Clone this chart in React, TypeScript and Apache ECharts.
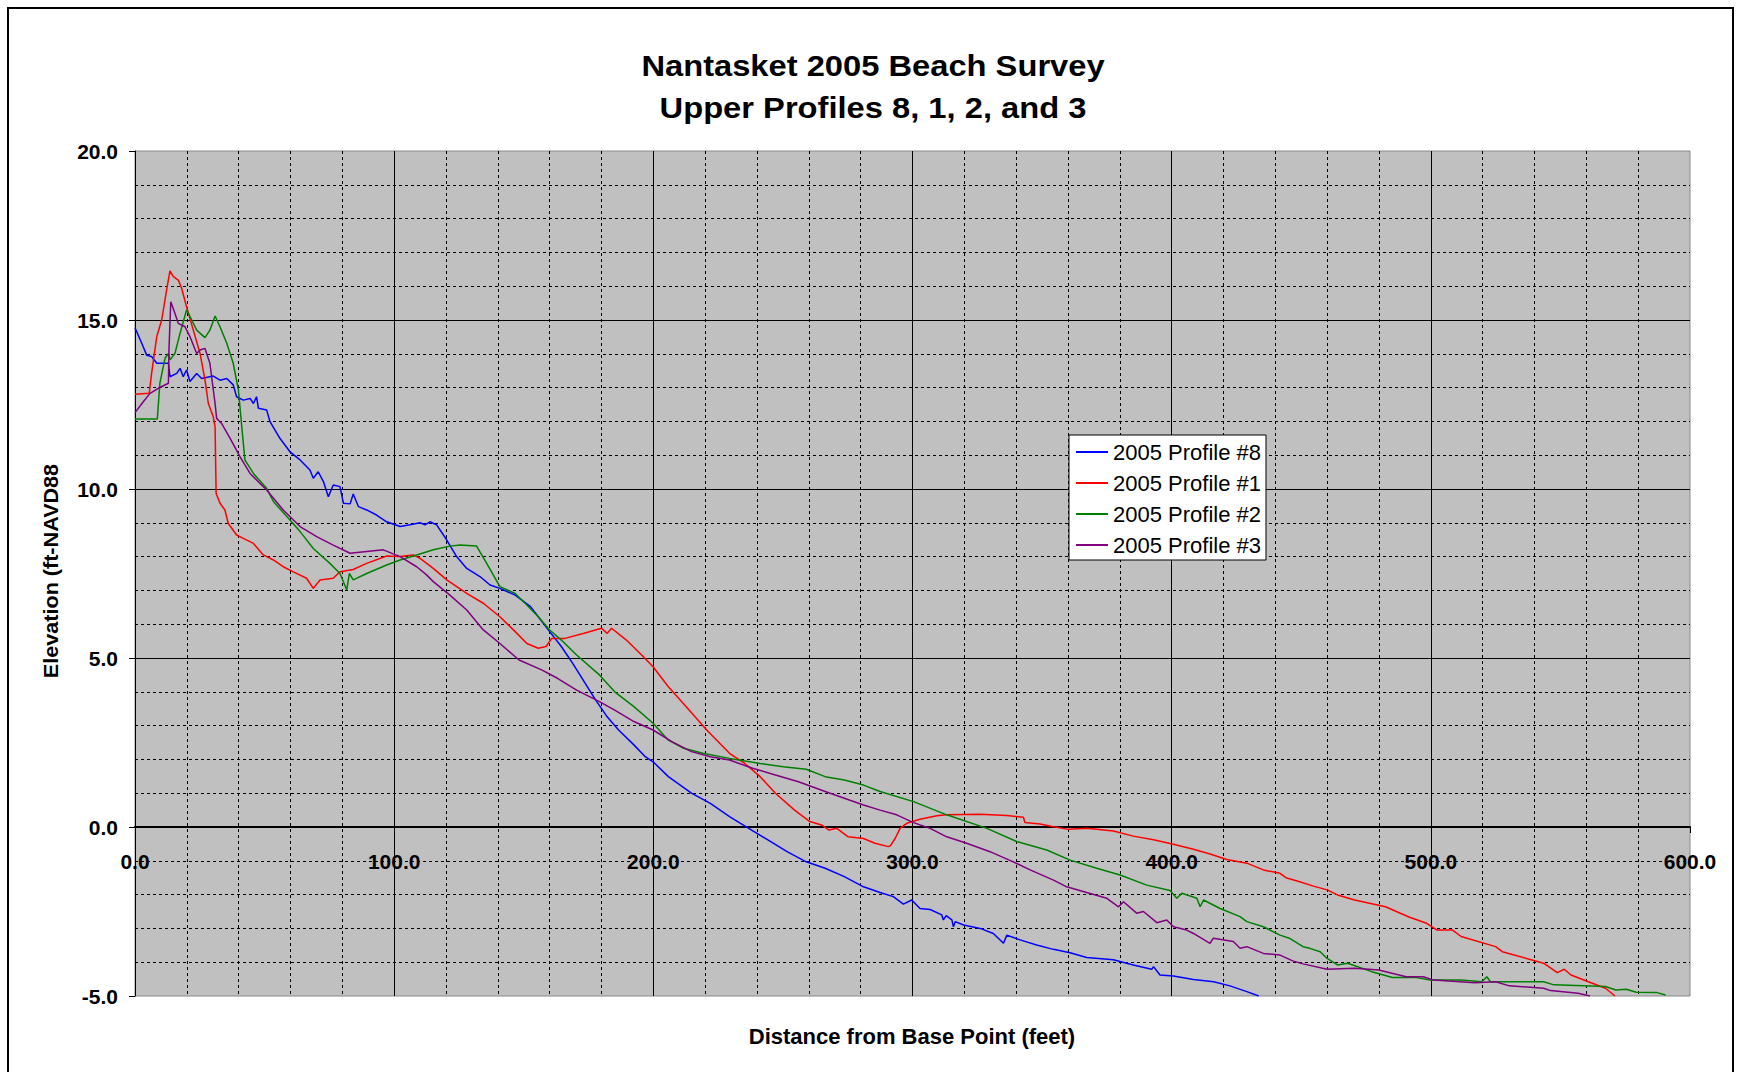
import React, { useEffect, useRef } from "react";
import * as echarts from "echarts";

type Pt = [number, number];

const seriesNames = ["2005 Profile #8", "2005 Profile #1", "2005 Profile #2", "2005 Profile #3"];
const seriesColors = ["#0000ff", "#ff0000", "#008000", "#800080"];

const titleLines = ["Nantasket 2005 Beach Survey", "Upper Profiles 8, 1, 2, and 3"];
const xAxisTitle = "Distance from Base Point (feet)";
const yAxisTitle = "Elevation (ft-NAVD88";

const profile8: Pt[] = [
  [0, 14.77], [2.6, 14.31], [4.5, 13.96], [6.4, 13.92], [8.4, 13.72], [12.9, 13.72], [13.5, 13.32],
  [16.1, 13.42], [17.4, 13.57], [18.6, 13.32], [19.9, 13.52], [21.2, 13.18], [23.8, 13.42], [25.7, 13.27],
  [30.2, 13.34], [32.8, 13.22], [35.4, 13.27], [37.9, 13.08], [39.2, 12.73], [41.8, 12.63], [44.4, 12.68],
  [45.7, 12.53], [46.9, 12.73], [47.6, 12.39], [50.8, 12.34], [52.1, 11.99], [55.9, 11.5], [59.8, 11.1],
  [63.7, 10.86], [67.5, 10.56], [68.8, 10.32], [70.7, 10.51], [72.7, 10.22], [74.6, 9.77], [76.5, 10.12],
  [79.1, 10.07], [80.4, 9.58], [83.0, 9.56], [84.2, 9.85], [86.2, 9.48], [89.4, 9.38], [93.2, 9.23],
  [97.1, 9.03], [102.3, 8.89], [106.1, 8.94], [110.0, 9.0], [111.9, 8.94], [113.8, 9.03], [116.4, 8.94],
  [120.3, 8.49], [124.1, 8.0], [128.0, 7.65], [133.1, 7.41], [137.0, 7.16], [140.8, 7.06], [146.7, 6.86],
  [152.6, 6.52], [155.6, 6.22], [160.0, 5.78], [164.5, 5.34], [168.9, 4.84], [173.3, 4.3], [177.7, 3.76],
  [182.2, 3.26], [186.6, 2.87], [192.5, 2.43], [196.9, 2.08], [199.9, 1.93], [205.8, 1.49], [214.7, 1.0],
  [222.0, 0.7], [229.4, 0.31], [236.8, -0.04], [244.2, -0.38], [251.6, -0.73], [259.0, -1.03], [266.3, -1.22],
  [273.7, -1.47], [281.1, -1.77], [287.5, -1.94], [292.6, -2.06], [296.5, -2.28], [299.7, -2.16],
  [302.9, -2.41], [306.8, -2.44], [311.3, -2.6], [311.9, -2.75], [313.0, -2.62], [315.2, -2.75],
  [315.8, -2.95], [316.5, -2.8], [319.7, -2.9], [326.1, -3.0], [331.2, -3.15], [335.1, -3.44], [336.4, -3.2],
  [341.5, -3.34], [347.9, -3.49], [354.4, -3.62], [360.8, -3.72], [367.2, -3.86], [377.5, -3.93],
  [385.2, -4.08], [392.3, -4.21], [393.0, -4.13], [395.5, -4.38], [400.7, -4.41], [408.4, -4.51],
  [416.2, -4.58], [422.5, -4.7], [429.0, -4.87], [433.6, -5.0],
];

const profile1: Pt[] = [
  [0, 12.8], [5.5, 12.83], [6.4, 13.42], [8.4, 14.51], [10.3, 15.0], [12.2, 15.89], [13.5, 16.45],
  [14.8, 16.28], [16.7, 16.18], [18.0, 15.94], [19.9, 15.39], [22.5, 14.7], [25.1, 14.01], [27.0, 13.23],
  [28.3, 12.53], [30.2, 12.14], [30.9, 11.84], [31.3, 9.87], [32.8, 9.58], [34.7, 9.38], [36.0, 8.98],
  [39.2, 8.64], [41.8, 8.54], [45.7, 8.39], [49.5, 8.05], [53.4, 7.9], [57.2, 7.7], [61.1, 7.55],
  [66.2, 7.36], [68.8, 7.06], [71.4, 7.31], [76.5, 7.36], [79.1, 7.55], [84.2, 7.62], [89.4, 7.8],
  [97.1, 8.02], [102.3, 8.0], [107.4, 8.05], [110.0, 7.95], [115.1, 7.65], [120.3, 7.31], [128.0, 6.91],
  [134.4, 6.62], [140.8, 6.22], [146.7, 5.78], [151.2, 5.43], [155.6, 5.29], [158.6, 5.34], [160.8, 5.58],
  [165.9, 5.58], [173.3, 5.73], [180.0, 5.88], [182.2, 5.73], [183.9, 5.88], [189.6, 5.53], [195.5, 5.09],
  [199.9, 4.74], [205.8, 4.15], [213.2, 3.51], [220.6, 2.87], [229.4, 2.18], [235.3, 1.88], [241.2, 1.49],
  [247.1, 1.0], [254.5, 0.5], [260.4, 0.16], [264.9, 0.06], [267.8, -0.09], [270.8, -0.04], [275.2, -0.29],
  [281.1, -0.34], [285.5, -0.48], [290.7, -0.58], [291.5, -0.55], [293.3, -0.34], [295.2, -0.04],
  [297.8, 0.11], [302.9, 0.23], [309.4, 0.33], [313.2, 0.36], [326.1, 0.38], [336.4, 0.34], [342.8, 0.29],
  [343.4, 0.13], [349.2, 0.09], [354.4, 0.01], [360.2, -0.07], [367.2, -0.04], [377.5, -0.12],
  [385.2, -0.27], [393.0, -0.38], [400.7, -0.51], [408.4, -0.66], [414.8, -0.8], [421.3, -0.96],
  [429.0, -1.07], [435.4, -1.27], [441.8, -1.37], [444.1, -1.5], [449.4, -1.62], [454.7, -1.75],
  [460.0, -1.86], [464.0, -2.01], [470.6, -2.16], [482.5, -2.36], [491.8, -2.67], [498.4, -2.85],
  [502.4, -3.05], [508.4, -3.05], [511.7, -3.24], [525.0, -3.54], [527.6, -3.69], [543.5, -4.03],
  [548.8, -4.31], [551.5, -4.21], [554.1, -4.38], [560.8, -4.58], [567.4, -4.77], [571.1, -5.0],
];

const profile2: Pt[] = [
  [0, 12.07], [8.6, 12.07], [9.6, 13.13], [11.6, 13.87], [12.9, 14.01], [13.5, 13.82], [15.4, 14.01],
  [17.4, 14.61], [19.9, 15.3], [21.9, 15.0], [23.8, 14.7], [27.0, 14.48], [28.9, 14.7], [30.9, 15.12],
  [32.8, 14.8], [35.4, 14.31], [37.9, 13.72], [39.9, 12.93], [41.2, 11.84], [42.4, 10.86], [45.7, 10.46],
  [50.8, 10.02], [53.4, 9.63], [59.8, 9.08], [63.7, 8.74], [68.8, 8.24], [75.2, 7.8], [79.1, 7.5],
  [81.7, 7.01], [82.7, 7.5], [84.2, 7.31], [89.4, 7.5], [97.1, 7.75], [102.3, 7.9], [108.7, 8.05],
  [115.1, 8.2], [121.5, 8.31], [125.4, 8.34], [131.8, 8.31], [135.7, 7.8], [140.8, 7.11], [146.7, 6.91],
  [151.2, 6.57], [155.6, 6.22], [160.0, 5.83], [164.5, 5.53], [170.4, 5.09], [179.2, 4.5], [185.1, 4.0],
  [192.5, 3.56], [199.9, 3.07], [205.8, 2.57], [211.7, 2.33], [219.1, 2.18], [229.4, 2.03], [241.2, 1.88],
  [250.1, 1.78], [259.0, 1.71], [266.3, 1.49], [273.7, 1.39], [281.1, 1.24], [287.5, 1.05], [300.4, 0.75],
  [313.2, 0.36], [328.7, -0.04], [340.2, -0.43], [351.8, -0.68], [360.8, -0.98], [371.1, -1.22],
  [380.1, -1.42], [390.4, -1.72], [399.4, -1.88], [402.0, -2.11], [403.9, -1.96], [409.7, -2.11],
  [411.0, -2.36], [412.3, -2.16], [418.7, -2.41], [426.4, -2.65], [429.0, -2.8], [435.4, -2.95],
  [441.8, -3.2], [445.4, -3.29], [450.7, -3.54], [453.3, -3.59], [457.3, -3.69], [460.0, -3.89],
  [464.0, -4.08], [467.9, -4.03], [477.2, -4.28], [485.2, -4.45], [494.5, -4.45], [499.8, -4.53],
  [511.7, -4.53], [519.7, -4.58], [521.6, -4.43], [523.0, -4.58], [543.5, -4.58], [547.5, -4.67],
  [567.4, -4.72], [571.4, -4.82], [575.4, -4.8], [579.3, -4.89], [587.3, -4.9], [590.6, -4.97],
];

const profile3: Pt[] = [
  [0, 12.26], [3.2, 12.58], [5.8, 12.83], [9.0, 12.98], [12.9, 13.13], [13.1, 14.11], [13.8, 15.54],
  [15.4, 15.2], [16.7, 14.9], [19.3, 14.8], [21.2, 14.51], [23.8, 14.01], [25.1, 14.11], [27.0, 14.16],
  [28.9, 13.72], [30.9, 12.53], [31.5, 12.09], [33.4, 11.94], [36.7, 11.5], [40.5, 10.96], [44.4, 10.46],
  [50.8, 9.97], [57.2, 9.38], [63.7, 8.89], [70.1, 8.59], [76.5, 8.34], [83.0, 8.1], [89.4, 8.15],
  [95.8, 8.2], [102.3, 8.0], [108.7, 7.7], [112.5, 7.46], [115.1, 7.26], [121.5, 6.86], [128.0, 6.42],
  [134.4, 5.83], [140.8, 5.43], [148.2, 4.94], [157.1, 4.64], [163.0, 4.4], [170.4, 4.05], [179.2, 3.71],
  [185.1, 3.46], [192.5, 3.12], [199.9, 2.87], [207.3, 2.52], [214.7, 2.23], [222.0, 2.08], [229.4, 1.98],
  [238.3, 1.74], [247.1, 1.54], [256.0, 1.34], [266.3, 1.05], [273.7, 0.85], [281.1, 0.65], [287.5, 0.5],
  [293.9, 0.36], [300.4, 0.13], [306.8, -0.04], [313.2, -0.29], [320.9, -0.48], [329.9, -0.73],
  [338.9, -1.03], [345.4, -1.27], [354.4, -1.57], [359.5, -1.77], [367.2, -1.94], [375.0, -2.11],
  [379.5, -2.36], [381.4, -2.21], [386.5, -2.55], [389.1, -2.5], [394.3, -2.83], [398.1, -2.75],
  [400.7, -2.95], [405.8, -3.05], [408.4, -3.15], [414.8, -3.44], [416.1, -3.29], [423.8, -3.39],
  [426.4, -3.59], [429.0, -3.54], [435.4, -3.74], [441.8, -3.79], [446.7, -3.96], [450.7, -4.05],
  [460.0, -4.21], [470.6, -4.18], [479.9, -4.23], [490.5, -4.43], [497.1, -4.43], [501.1, -4.53],
  [517.0, -4.61], [525.0, -4.58], [530.3, -4.7], [543.5, -4.77], [546.2, -4.84], [556.8, -4.92],
  [561.4, -5.0],
];

const seriesData = [profile8, profile1, profile2, profile3];

const xMin = 0, xMax = 600, xStep = 100;
const yMin = -5, yMax = 20, yStep = 5;

const FONT = "Arial, 'Liberation Sans', Helvetica, sans-serif";

const GRID_TOP = 151;
const GRID_BOTTOM = 76;
const CHART_H = 1072;

export default function App() {
  const ref = useRef<HTMLDivElement>(null);

  useEffect(() => {
    if (!ref.current) return;
    const chart = echarts.init(ref.current, undefined, { renderer: "svg" });

    // place the x axis on the y = 0 line (offset upwards from the grid's bottom edge)
    const plotH = CHART_H - GRID_TOP - GRID_BOTTOM;
    const zeroOffset = -((0 - yMin) / (yMax - yMin)) * plotH;

    const textStyle = (text: string, size: number, weight: string) => ({
      text,
      fontSize: size,
      fontWeight: weight,
      fontFamily: FONT,
      fill: "#000",
      textAlign: "center",
      textVerticalAlign: "middle",
      align: "center",
      verticalAlign: "middle",
    });

    const option: any = {
      animation: false,
      backgroundColor: "#ffffff",
      grid: {
        left: 135,
        right: 49,
        top: GRID_TOP,
        bottom: GRID_BOTTOM,
        show: true,
        backgroundColor: "#c0c0c0",
        borderColor: "#8a8a8a",
        borderWidth: 1,
      },
      xAxis: {
        type: "value",
        position: "bottom",
        offset: zeroOffset,
        min: xMin,
        max: xMax,
        interval: xStep,
        axisLine: { show: true, onZero: false, lineStyle: { color: "#000", width: 2 } },
        axisTick: { show: true, inside: false, length: 6, lineStyle: { color: "#000", width: 1 } },
        axisLabel: {
          margin: 24,
          fontSize: 21,
          fontWeight: "bold",
          fontFamily: FONT,
          color: "#000",
          formatter: (v: number) => v.toFixed(1),
        },
        splitLine: { show: true, showMinLine: false, showMaxLine: false, lineStyle: { color: "#000", width: 1 } },
        minorTick: { show: false, splitNumber: 5 },
        minorSplitLine: { show: true, lineStyle: { color: "#000", width: 1, type: [3, 3] } },
      },
      yAxis: {
        type: "value",
        min: yMin,
        max: yMax,
        interval: yStep,
        axisLine: { show: true, onZero: false, lineStyle: { color: "#000", width: 1 } },
        axisTick: { show: true, inside: false, length: 6, lineStyle: { color: "#000", width: 1 } },
        axisLabel: {
          margin: 17,
          fontSize: 21,
          fontWeight: "bold",
          fontFamily: FONT,
          color: "#000",
          formatter: (v: number) => v.toFixed(1),
        },
        splitLine: { show: true, showMinLine: false, showMaxLine: false, lineStyle: { color: "#000", width: 1 } },
        minorTick: { show: false, splitNumber: 5 },
        minorSplitLine: { show: true, lineStyle: { color: "#000", width: 1, type: [3, 3] } },
      },
      legend: {
        show: true,
        orient: "vertical",
        left: 1069,
        top: 435,
        padding: [6, 5, 4, 7],
        itemGap: 9,
        itemWidth: 32,
        itemHeight: 2,
        icon: "rect",
        backgroundColor: "#ffffff",
        borderColor: "#000",
        borderWidth: 1,
        borderRadius: 0,
        data: seriesNames,
        textStyle: { fontSize: 22, fontFamily: FONT, color: "#000" },
      },
      series: seriesNames.map((name, i) => ({
        name,
        type: "line",
        data: seriesData[i],
        showSymbol: false,
        symbol: "none",
        clip: true,
        color: seriesColors[i],
        lineStyle: { color: seriesColors[i], width: 1.5 },
        z: 3,
      })),
      graphic: [
        {
          type: "rect",
          shape: { x: 8, y: 8, width: 1725, height: 1100 },
          style: { fill: "none", stroke: "#000", lineWidth: 2 },
          silent: true,
        },
        {
          type: "text",
          x: 873,
          y: 66,
          scaleX: 1.09,
          style: textStyle(titleLines[0], 30, "bold"),
        },
        {
          type: "text",
          x: 873,
          y: 108,
          scaleX: 1.09,
          style: textStyle(titleLines[1], 30, "bold"),
        },
        {
          type: "text",
          x: 912,
          y: 1036,
          style: textStyle(xAxisTitle, 22, "bold"),
        },
        {
          type: "text",
          x: 51,
          y: 571,
          rotation: Math.PI / 2,
          scaleX: 1.08,
          style: textStyle(yAxisTitle, 20, "bold"),
        },
      ],
    };

    chart.setOption(option);
    return () => chart.dispose();
  }, []);

  return (
    <div
      ref={ref}
      style={{ position: "fixed", left: 0, top: 0, width: 1739, height: 1072, background: "#fff" }}
    />
  );
}
